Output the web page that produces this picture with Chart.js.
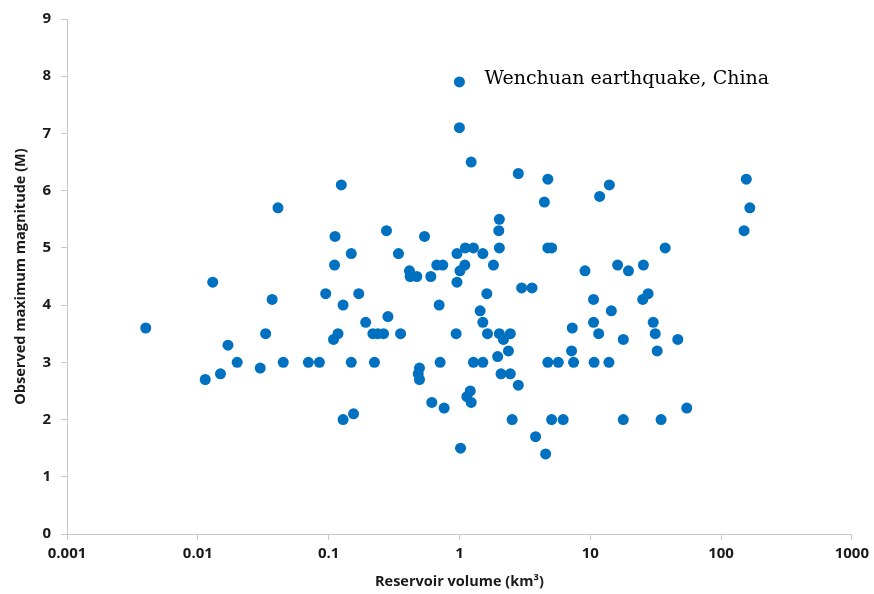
<!DOCTYPE html>
<html>
<head>
<meta charset="utf-8">
<script src="https://cdn.jsdelivr.net/npm/chart.js@4.4.1/dist/chart.umd.min.js"></script>
<style>
  body { margin: 0; background: #fff; }
  #wrap { width: 874px; height: 594px; }
</style>
</head>
<body>
<div id="wrap"><canvas id="quakeChart" width="874" height="594"></canvas></div>
<script>
// reservoir volume (km3) and observed max magnitude
const volume = [
  0.004, 0.0114, 0.013, 0.0149, 0.017, 0.02, 0.03, 0.033, 0.037, 0.041,
  0.045, 0.07, 0.085, 0.095, 0.109, 0.111, 0.112, 0.118, 0.125, 0.129,
  0.129, 0.149, 0.149, 0.155, 0.17, 0.192, 0.218, 0.224, 0.238, 0.263,
  0.277, 0.284, 0.342, 0.355, 0.415, 0.42, 0.472, 0.484, 0.495, 0.495,
  0.541, 0.604, 0.615, 0.671, 0.70, 0.712, 0.746, 0.764, 0.958, 0.944,
  0.958, 1.0, 1.0, 1.01, 1.02, 1.10, 1.11, 1.14, 1.21, 1.23,
  1.23, 1.28, 1.28, 1.44, 1.51, 1.51, 1.51, 1.62, 1.64, 1.82,
  1.96, 2.02, 2.0, 2.02, 2.02, 2.08, 2.17, 2.37, 2.45, 2.45,
  2.53, 2.82, 2.82, 2.99, 3.59, 3.82, 4.46, 4.56, 4.74, 4.74,
  4.74, 5.07, 5.07, 5.7, 6.21, 7.29, 7.2, 7.46, 9.12, 10.6,
  10.6, 10.7, 11.8, 11.6, 14.0, 13.9, 14.5, 16.2, 17.9, 17.9,
  19.6, 25.2, 25.5, 27.7, 30.3, 31.4, 32.5, 34.8, 37.4, 46.7,
  54.7, 150, 156, 166
];
const magnitude = [
  3.6, 2.7, 4.4, 2.8, 3.3, 3.0, 2.9, 3.5, 4.1, 5.7,
  3.0, 3.0, 3.0, 4.2, 3.4, 4.7, 5.2, 3.5, 6.1, 4.0,
  2.0, 4.9, 3.0, 2.1, 4.2, 3.7, 3.5, 3.0, 3.5, 3.5,
  5.3, 3.8, 4.9, 3.5, 4.6, 4.5, 4.5, 2.8, 2.7, 2.9,
  5.2, 4.5, 2.3, 4.7, 4.0, 3.0, 4.7, 2.2, 4.4, 3.5,
  4.9, 7.9, 7.1, 4.6, 1.5, 4.7, 5.0, 2.4, 2.5, 6.5,
  2.3, 5.0, 3.0, 3.9, 3.7, 4.9, 3.0, 4.2, 3.5, 4.7,
  3.1, 5.5, 5.3, 5.0, 3.5, 2.8, 3.4, 3.2, 2.8, 3.5,
  2.0, 6.3, 2.6, 4.3, 4.3, 1.7, 5.8, 1.4, 3.0, 6.2,
  5.0, 5.0, 2.0, 3.0, 2.0, 3.6, 3.2, 3.0, 4.6, 4.1,
  3.7, 3.0, 5.9, 3.5, 6.1, 3.0, 3.9, 4.7, 3.4, 2.0,
  4.6, 4.1, 4.7, 4.2, 3.7, 3.5, 3.2, 2.0, 5.0, 3.4,
  2.2, 5.3, 6.2, 5.7
];

const xTicks = [0.001, 0.01, 0.1, 1, 10, 100, 1000];
const xTickLabels = ['0.001', '0.01', '0.1', '1', '10', '100', '1000'];
const yTicks = [0, 1, 2, 3, 4, 5, 6, 7, 8, 9];

const noteText = 'Wenchuan earthquake, China';
const notePoint = [1.0, 7.9];

const points = volume.map((v, i) => ({ x: v, y: magnitude[i] }));

const axisGrey = '#c8c8c8';
const tickFont = { family: '"Open Sans", sans-serif', size: 15, weight: 'bold' };
const titleFont = { family: '"Open Sans", sans-serif', size: 14.5, weight: 'bold' };

// draws the text label beside the Wenchuan point
const notePlugin = {
    id: 'note',
    afterDatasetsDraw(chart) {
        const { ctx, scales } = chart;
        const px = scales.x.getPixelForValue(notePoint[0]);
        const py = scales.y.getPixelForValue(notePoint[1]);
        ctx.save();
        ctx.font = '19px "DejaVu Serif", serif';
        ctx.fillStyle = '#000';
        ctx.textBaseline = 'middle';
        ctx.fillText(noteText, px + 25, py - 3);
        ctx.restore();
    }
};

new Chart(document.getElementById('quakeChart'), {
    type: 'scatter',
    data: {
        datasets: [{
            data: points,
            backgroundColor: '#0070C0',
            borderWidth: 0,
            pointRadius: 5.5,
            pointHoverRadius: 5.5
        }]
    },
    options: {
        responsive: false,
        animation: false,
        layout: { padding: { top: 18, right: 21, left: 0, bottom: 0 } },
        plugins: { legend: { display: false }, tooltip: { enabled: false } },
        scales: {
            x: {
                type: 'logarithmic',
                min: 0.001,
                max: 1000,
                afterBuildTicks: (scale) => { scale.ticks = xTicks.map(v => ({ value: v })); },
                afterFit: (scale) => { scale.height = 60; },
                ticks: {
                    color: '#1a1a1a',
                    font: tickFont,
                    padding: 5,
                    maxRotation: 0,
                    autoSkip: false,
                    callback: (v, i) => xTickLabels[i]
                },
                grid: { drawOnChartArea: false, drawTicks: true, tickLength: 6, color: axisGrey },
                border: { display: true, color: axisGrey, width: 1 },
                title: {
                    display: true,
                    text: 'Reservoir volume (km³)',
                    color: '#1a1a1a',
                    font: titleFont,
                    padding: { top: 0, bottom: 3 }
                }
            },
            y: {
                min: 0,
                max: 9,
                afterBuildTicks: (scale) => { scale.ticks = yTicks.map(v => ({ value: v })); },
                afterFit: (scale) => { scale.width = 67; },
                ticks: { color: '#1a1a1a', font: tickFont, padding: 10 },
                grid: { drawOnChartArea: false, drawTicks: true, tickLength: 6, color: axisGrey },
                border: { display: true, color: axisGrey, width: 1 },
                title: {
                    display: true,
                    text: 'Observed maximum magnitude (M)',
                    color: '#1a1a1a',
                    font: titleFont,
                    padding: { top: 12, bottom: 0 }
                }
            }
        }
    },
    plugins: [notePlugin]
});
</script>
</body>
</html>
